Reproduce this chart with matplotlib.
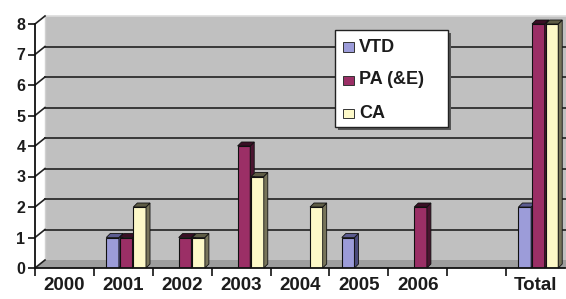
import matplotlib
matplotlib.use("Agg")
import matplotlib.pyplot as plt
from matplotlib.patches import Polygon, Rectangle

plt.rcParams['font.family'] = ['Liberation Sans', 'DejaVu Sans']

categories = ['2000', '2001', '2002', '2003', '2004', '2005', '2006', '', 'Total']
series_names = ['VTD', 'PA (&E)', 'CA']
vtd = [0, 1, 0, 0, 0, 1, 0, 0, 2]
pa = [0, 1, 1, 4, 0, 0, 2, 0, 8]
ca = [0, 2, 1, 3, 2, 0, 0, 0, 8]
yticks = [0, 1, 2, 3, 4, 5, 6, 7, 8]

front_cols = ['#9c9cd9', '#9b2f66', '#fdf9c8']
side_cols = ['#4a4a7a', '#4a1530', '#77745a']
top_cols = ['#5c5c90', '#3a0f25', '#5e5c45']
txt_col = '#1c1c1c'

W, H = 566, 299
fig = plt.figure(figsize=(W / 100, H / 100), dpi=100)
L, R, T, B = 35, 565, 24, 268
ax = fig.add_axes([L / W, (H - B) / H, (R - L) / W, (B - T) / H])
n = len(categories)
ax.set_xlim(-0.5, n - 0.5)
ax.set_ylim(0, 8)
ax.set_facecolor('none')

pxx = (R - L) / n
pxy = (B - T) / 8.0
DX, DY = 10 / pxx, 8 / pxy       # wall depth
BDX, BDY = 4 / pxx, 4 / pxy      # bar depth

x0, x1 = -0.5, n - 0.5
# wall
ax.add_patch(Rectangle((x0 + DX, DY), (x1 - x0) + 1, 8, facecolor='#c0c0c0',
                       edgecolor='none', zorder=0, clip_on=False))
ax.plot([x0 + DX, x1 + DX + 1], [8 + DY, 8 + DY], color='#dcdcdc', lw=1.2, zorder=1, clip_on=False)
ax.plot([x0 + DX, x0 + DX], [DY, 8 + DY], color='#d0d0d0', lw=1.0, zorder=1, clip_on=False)
# floor
ax.add_patch(Polygon([(x0, 0), (x1 + 1, 0), (x1 + 1 + DX, DY), (x0 + DX, DY)],
                     closed=True, facecolor='#9e9e9e', edgecolor='none', zorder=1, clip_on=False))
# gridlines
for y in yticks[1:-1]:
    ax.plot([x0 + DX, x1 + DX + 1], [y + DY, y + DY], color='#383838', lw=1.4, zorder=2, clip_on=False)
# diagonal ticks
for y in yticks:
    ax.plot([x0, x0 + DX], [y, y + DY], color='#222222', lw=1.2, zorder=2, clip_on=False)

# bars
offsets = [-0.29, -0.06, 0.17]
bw = 0.215
z = 5
for s, vals in enumerate([vtd, pa, ca]):
    for i, v in enumerate(vals):
        if v <= 0:
            continue
        xl = i + offsets[s]
        ax.bar(xl, v, width=bw, align='edge', color=front_cols[s], edgecolor='#111111',
               linewidth=0.8, zorder=z)
        ax.add_patch(Polygon([(xl + bw, 0), (xl + bw + BDX, BDY), (xl + bw + BDX, v + BDY), (xl + bw, v)],
                             closed=True, facecolor=side_cols[s], edgecolor='#111111', lw=0.6,
                             zorder=z, clip_on=False))
        ax.add_patch(Polygon([(xl, v), (xl + BDX, v + BDY), (xl + bw + BDX, v + BDY), (xl + bw, v)],
                             closed=True, facecolor=top_cols[s], edgecolor='#111111', lw=0.6,
                             zorder=z, clip_on=False))
    z += 1

# axes
for sp in ['top', 'right']:
    ax.spines[sp].set_visible(False)
for sp in ['left', 'bottom']:
    ax.spines[sp].set_color('#111111')
    ax.spines[sp].set_linewidth(1.3)
    ax.spines[sp].set_zorder(10)
ax.set_yticks(yticks)
ax.set_yticklabels([str(t) for t in yticks], fontsize=11.5, fontweight='bold', color=txt_col)
ax.tick_params(axis='y', length=5, width=1.2, pad=2, color='#111111')
ax.set_xticks(range(n))
ax.set_xticklabels(categories, fontsize=13.5, fontweight='bold', color=txt_col)
ax.tick_params(axis='x', which='major', length=0, pad=6.5)
ax.set_xticks([i + 0.5 for i in range(n - 1)] + [x0], minor=True)
ax.tick_params(axis='x', which='minor', length=6, width=1.2, color='#111111')

# legend (manual)
def af(px, py):
    return ((px - L) / (R - L), (B - py) / (B - T))

lx0, ly0, lx1, ly1 = 335, 30, 448, 127
sx, sy = af(lx0 + 3, ly1 + 3)
ex, ey = af(lx1 + 3, ly0 + 3)
ax.add_patch(Rectangle((sx, sy), ex - sx, ey - sy, transform=ax.transAxes, facecolor='#555555',
                       edgecolor='none', zorder=20, clip_on=False))
bx, by = af(lx0, ly1)
tx, ty = af(lx1, ly0)
ax.add_patch(Rectangle((bx, by), tx - bx, ty - by, transform=ax.transAxes, facecolor='white',
                       edgecolor='#222222', lw=1.0, zorder=21, clip_on=False))
rows = [47, 80, 113]
for s, name in enumerate(series_names):
    mx, my = af(343, rows[s] + 4.5)
    mx2, my2 = af(354, rows[s] - 4.5)
    ax.add_patch(Rectangle((mx, my), mx2 - mx, my2 - my, transform=ax.transAxes,
                           facecolor=front_cols[s], edgecolor='#333333', lw=0.7, zorder=22, clip_on=False))
    txp, typ = af(359, rows[s])
    ax.text(txp, typ, name, transform=ax.transAxes, fontsize=13, fontweight='bold', color=txt_col,
            va='center', ha='left', zorder=23)

fig.savefig('out.png', dpi=100)
